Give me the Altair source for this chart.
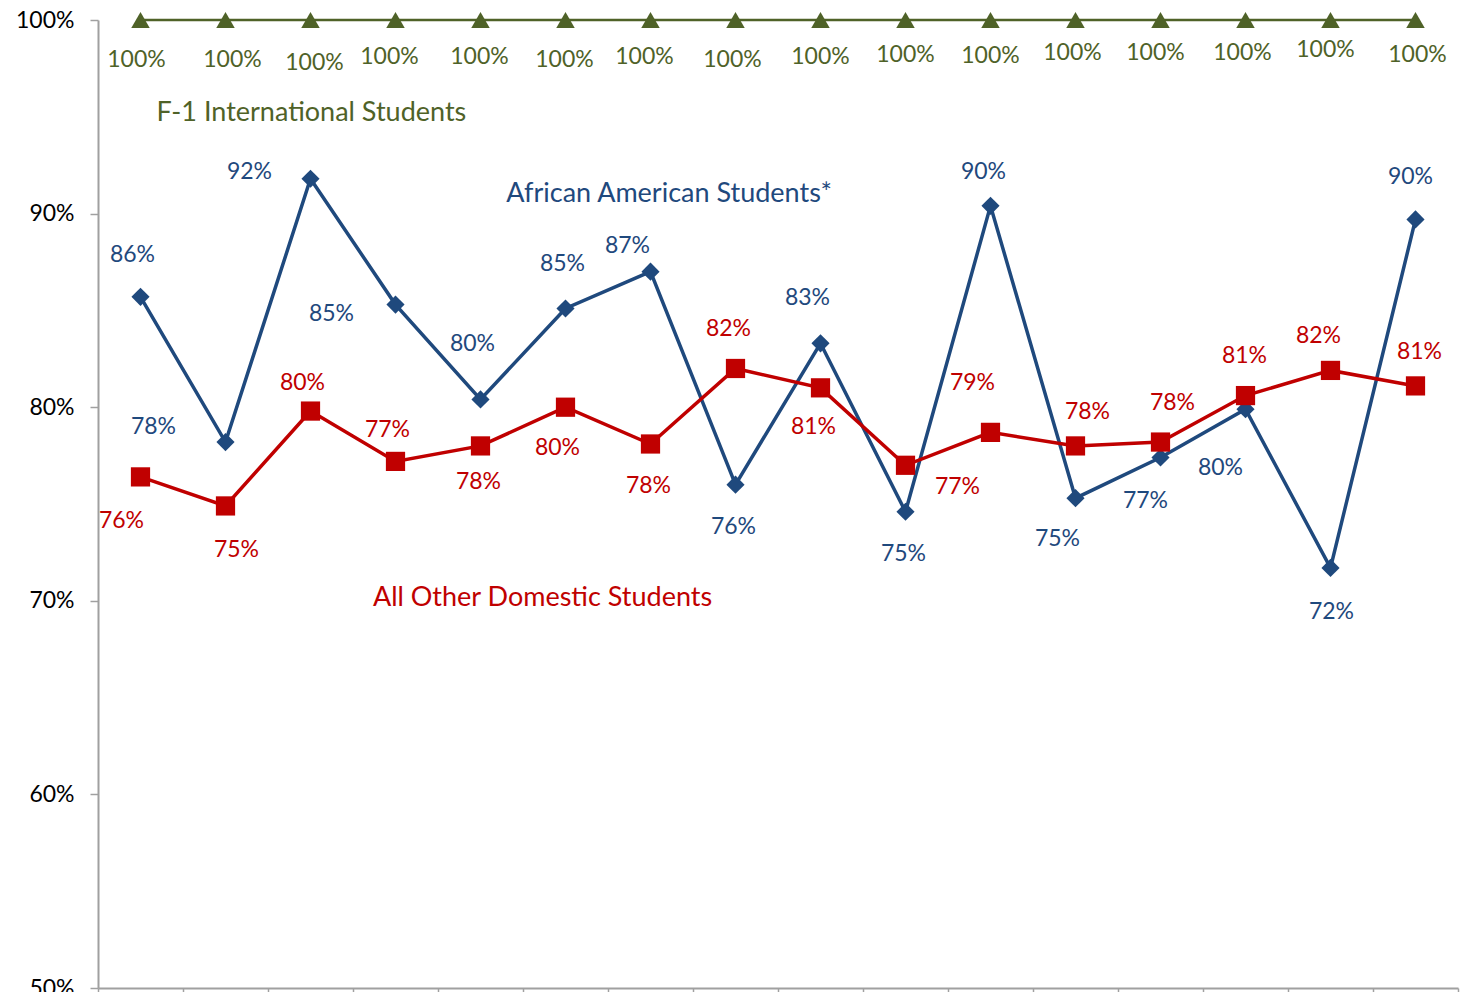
import altair as alt
import pandas as pd

# ---- data ----
categories = list(range(1, 17))
african_american = [85.7, 78.2, 91.8, 85.3, 80.4, 85.1, 87.0, 76.0, 83.3, 74.6,
                    90.4, 75.3, 77.4, 79.9, 71.7, 89.7]
other_domestic = [76.4, 74.9, 79.8, 77.2, 78.0, 80.0, 78.1, 82.0, 81.0, 77.0,
                  78.7, 78.0, 78.2, 80.6, 81.9, 81.1]
f1_international = [100, 100, 100, 100, 100, 100, 100, 100, 100, 100,
                    100, 100, 100, 100, 100, 100]

series_names = ["African American Students*", "All Other Domestic Students",
                "F-1 International Students"]

# ---- label placement offsets (pixels, relative to each point) ----
blue_dx = [-8, -72, -61, -64, -8, -3, -23, -2, -13, -2, -7, -18, -15, -25, 1, -5]
blue_dy = [-42, -15, -7, 9, -55, -44, -26, 42, -45, 42, -34, 41, 43, 59, 44, -42]
red_dx = [-19, 11, -8, -8, -2, -8, -2, -7, -7, 52, -18, 12, 12, -1, -12, 4]
red_dy = [44, 44, -28, -31, 36, 41, 42, -39, 39, 22, -49, -34, -39, -40, -34, -34]
green_dx = [-4, 7, 4, -6, -1, -1, -6, -3, 0, 0, 0, -3, -5, -3, -5, 2]
green_dy = [40, 40, 43, 37, 37, 40, 37, 40, 37, 35, 36, 33, 33, 33, 30, 35]

# ---- styling ----
W, H = 1360, 968
PX_X = W / 16.0
PX_Y = H / 50.0
FONT = "Lato"
BLUE = "#1F497D"
RED = "#C00000"
GREEN = "#4F6228"
AXIS_GRAY = "#A0A0A0"

x_scale = alt.Scale(domain=[0.5, 16.5], nice=False, zero=False)
y_scale = alt.Scale(domain=[50, 100], nice=False, zero=False)

x_axis = alt.Axis(values=[i + 0.5 for i in range(0, 17)], labels=False, title=None,
                  grid=False, domainColor=AXIS_GRAY, domainWidth=2, tickColor=AXIS_GRAY,
                  tickWidth=1.5, tickSize=8)
y_axis = alt.Axis(values=[50, 60, 70, 80, 90, 100], labelExpr="datum.value + '%'",
                  title=None, grid=False, domainColor=AXIS_GRAY, domainWidth=2,
                  tickColor=AXIS_GRAY, tickWidth=1.5, tickSize=8, labelFont=FONT,
                  labelFontSize=23, labelColor="#000000", labelPadding=16)


def series_frame(values, dx, dy):
    return pd.DataFrame({
        "cat": categories,
        "value": values,
        "label": [f"{v:.0f}%" for v in values],
        "lx": [c + d / PX_X for c, d in zip(categories, dx)],
        "ly": [v - d / PX_Y for v, d in zip(values, dy)],
    })


specs = [
    (african_american, blue_dx, blue_dy, BLUE, "diamond", 330, 3.5),
    (other_domestic, red_dx, red_dy, RED, "square", 370, 3.5),
    (f1_international, green_dx, green_dy, GREEN, "triangle-up", 340, 2.5),
]

layers = []
for vals, dx, dy, color, shape, size, sw in specs:
    df = series_frame(vals, dx, dy)
    base = alt.Chart(df)
    line = base.mark_line(color=color, strokeWidth=sw).encode(
        x=alt.X("cat:Q", scale=x_scale, axis=x_axis),
        y=alt.Y("value:Q", scale=y_scale, axis=y_axis),
    )
    pts = base.mark_point(shape=shape, size=size, filled=True, color=color,
                          opacity=1).encode(
        x=alt.X("cat:Q", scale=x_scale, axis=x_axis),
        y=alt.Y("value:Q", scale=y_scale, axis=y_axis),
    )
    txt = base.mark_text(color=color, font=FONT, fontSize=23, align="center",
                         baseline="middle").encode(
        x=alt.X("lx:Q", scale=x_scale, axis=x_axis),
        y=alt.Y("ly:Q", scale=y_scale, axis=y_axis),
        text="label:N",
    )
    layers += [line, pts, txt]

# series name annotations
names_df = pd.DataFrame({
    "name": series_names,
    "x": [7.22, 5.73, 3.01],
    "y": [91.0, 70.14, 95.19],
    "color": [BLUE, RED, GREEN],
})
names = alt.Chart(names_df).mark_text(font=FONT, fontSize=27, align="center",
                                      baseline="middle").encode(
    x=alt.X("x:Q", scale=x_scale, axis=x_axis),
    y=alt.Y("y:Q", scale=y_scale, axis=y_axis),
    text="name:N",
    color=alt.Color("color:N", scale=None),
)
layers.append(names)

chart = alt.layer(*layers).properties(
    width=W, height=H,
    autosize=alt.AutoSizeParams(type="none"),
    padding={"left": 90, "top": 12, "right": 4, "bottom": 4},
    background="#FFFFFF",
).configure_view(stroke=None)

chart.save("out.html", embed_options={"renderer": "svg", "actions": False})
